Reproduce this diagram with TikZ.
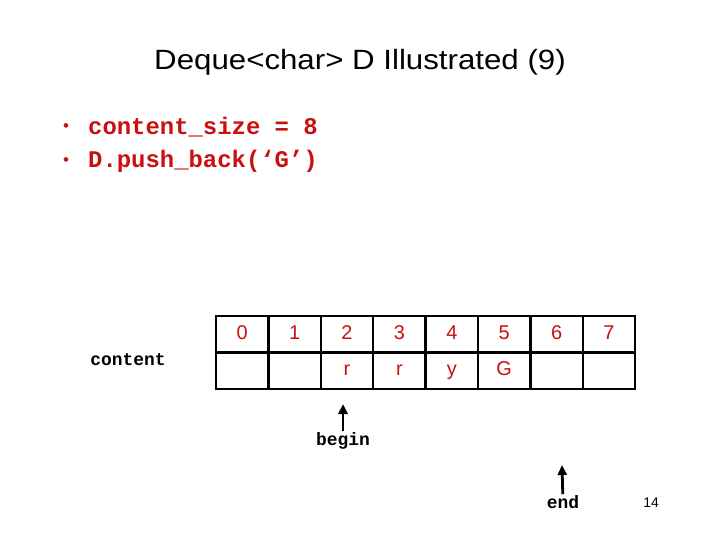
\documentclass[tikz,border=0pt]{standalone}
\usepackage{fontspec}
\setmainfont{Liberation Sans}
\setmonofont{Liberation Mono}
\newfontfamily\titlefont[FakeStretch=1.12]{Liberation Sans}
\usetikzlibrary{arrows.meta, positioning}
\definecolor{deqred}{RGB}{200,16,16}
\tikzstyle{cell}     = [rectangle, draw, line width=2.4bp, minimum width=52.4bp,
                         minimum height=36.3bp, inner sep=0pt, text=deqred,
                         text height=14.5bp, text depth=4bp,
                         font=\fontsize{20}{22}\selectfont]
\tikzstyle{code}     = [anchor=west, inner sep=0pt, text=deqred,
                         font=\ttfamily\bfseries\fontsize{24}{28}\selectfont]
\tikzstyle{dot}      = [inner sep=0pt, text=deqred, font=\fontsize{17}{20}\selectfont]
\tikzstyle{ptrlabel} = [inner sep=1bp, font=\ttfamily\bfseries\fontsize{18}{20}\selectfont]
\tikzstyle{arrow}    = [-{Triangle[length=10bp, width=9bp]}, line width=2.8bp]

\begin{document}
\begin{tikzpicture}[x=1bp, y=-1bp]
  \useasboundingbox (0,0) rectangle (720,540);
  \node[font=\titlefont\fontsize{28}{32}\selectfont] (title) at (360,62) {Deque<char> D Illustrated (9)};

  % bullet lines
  \node[dot] (dot1) at (66,128) {•};
  \node[code] (b1) at (88,127) {content\_size = 8};
  \node[dot] (dot2) at (66,162) {•};
  \node[code] (b2) at (88,161) {D.push\_back(‘G’)};

  % the array
  \foreach \i/\v in {0/,1/,2/r,3/r,4/y,5/G,6/,7/} {
    \node[cell] (idx\i) at ({242.2+52.4*\i},334.4) {\i};
    \node[cell] (val\i) at ({242.2+52.4*\i},370.7) {\v};
  }
  \node[ptrlabel] (content) at (128,360) {content};

  % pointers
  \node[ptrlabel] (begin) at (343,441) {begin};
  \coordinate (begintip) at (343,404);
  \draw[arrow] (begin) -- (begintip);

  \node[ptrlabel] (end) at (563,502) {end};
  \coordinate (endtip) at (562,465);
  \draw[arrow] (end) -- (endtip);

  \node[font=\fontsize{14}{16}\selectfont] (page) at (651,503) {14};
\end{tikzpicture}
\end{document}
